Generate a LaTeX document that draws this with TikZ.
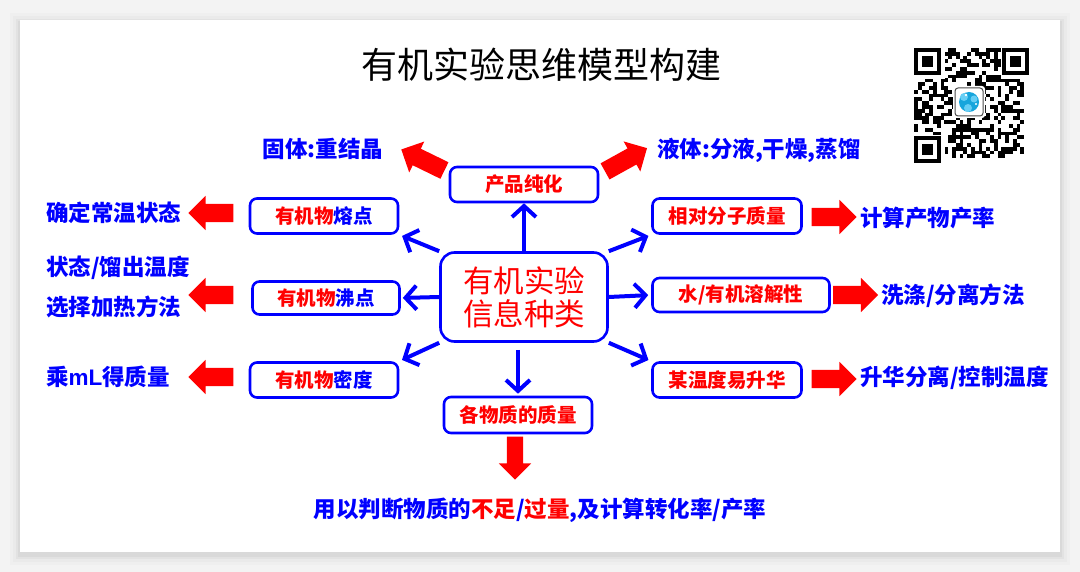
\documentclass[tikz,border=0pt]{standalone}
\usepackage{fontspec}
\setmainfont{Noto Sans CJK SC}
\newfontfamily\latinsans{Liberation Sans}
\usetikzlibrary{shapes.arrows,arrows.meta}
\definecolor{pagebg}{RGB}{243,243,243}
\newcommand{\boxfont}{\fontsize{19.5}{22}\selectfont\bfseries}
\newcommand{\notefont}{\fontsize{22.5}{26}\selectfont\bfseries}

\tikzset{
  infobox/.style={draw=blue, line width=2.6pt, rounded corners=7pt, minimum width=148pt,
    minimum height=35pt, inner sep=0pt, text=red, font=\boxfont},
  hubbox/.style={draw=blue, line width=2.6pt, rounded corners=14pt, minimum width=167pt,
    minimum height=89pt, inner sep=0pt, text=red, align=center,
    font=\fontsize{30.5}{33}\selectfont},
  note/.style={text=blue, inner sep=0pt, font=\notefont},
  fatarrow/.style={single arrow, fill=red, draw=none, minimum height=45pt,
    inner sep=9pt, single arrow head extend=8pt},
  link/.style={draw=blue, line width=4pt, -{Straight Barb[length=11pt,width=24pt]}}
}

\begin{document}
\begin{tikzpicture}[x=1pt,y=-1pt]
	\useasboundingbox (0,0) rectangle (1080,572);
	\fill[pagebg] (0,0) rectangle (1080,572);
	\foreach \d/\o in {10/0.015,7/0.02,4/0.03,2/0.04}
	  \fill[black,opacity=\o] (20-\d,20-\d+3) rectangle (1060+\d,552+\d+3);
	\fill[white] (20,20) rectangle (1060,552);

	% title
	\node (title) at (541,65) {\fontsize{36}{40}\selectfont 有机实验思维模型构建};

	% qr code
	\pgfmathsetseed{731}
	\foreach \i in {0,...,28}{
	  \foreach \j in {0,...,28}{
	    \pgfmathrandominteger{\bit}{0}{1}
	    \ifnum\bit=1 \fill[black] ({914+\i*3.8},{48+\j*3.8}) rectangle +(3.8,3.8); \fi
	  }
	}
	\foreach \cx/\cy in {914/48, 1002.4/48, 914/136.4}{
	  \fill[white] (\cx-1,\cy-1) rectangle +(32,32);
	  \fill[black] (\cx,\cy) rectangle +(26.6,26.6);
	  \fill[white] (\cx+3.8,\cy+3.8) rectangle +(19,19);
	  \fill[black] (\cx+7.6,\cy+7.6) rectangle +(11.4,11.4);
	}
	\fill[white, rounded corners=3pt] (953,86) rectangle (985,118);
	\draw[black!70, line width=1pt, rounded corners=3pt] (955,88) rectangle (983,116);
	\fill[cyan!80!teal] (969,102) circle (10);
	\fill[cyan!60] (964,97) circle (4) (974,99) circle (3.5) (968,108) circle (4);
	\fill[white] (966,95) circle (1.3) (976,104) circle (1.2);

	% centre
	\node[hubbox] (hub) at (524,297) {有机实验\\信息种类};

	% boxes
	\node[infobox] (purify) at (524,184.5) {产品纯化};
	\node[infobox] (melt) at (324,216) {有机物\textcolor{blue}{熔点}};
	\node[infobox, minimum width=147pt, minimum height=33pt] (boil) at (326,298) {有机物\textcolor{blue}{沸点}};
	\node[infobox] (density) at (324,380) {有机物\textcolor{blue}{密度}};
	\node[infobox, minimum height=36pt] (masses) at (518,415) {各物质的质量};
	\node[infobox, minimum width=149pt] (molar) at (727,216) {相对分子质量};
	\node[infobox, minimum width=177pt, minimum height=34pt] (solub) at (741,295) {水/有机溶解性};
	\node[infobox, minimum width=149pt] (sublime) at (727,380) {某温度易升华};

	% blue links
	\draw[link] (hub.north) -- (purify.south);
	\draw[link, shorten >=3pt] (hub.north west) -- (melt.south east);
	\draw[link, shorten >=2pt] (hub.west) -- (boil.east);
	\draw[link, shorten >=3pt] (hub.south west) -- (density.north east);
	\draw[link, shorten <=7pt, shorten >=2pt] (masses.north |- hub.south) -- (masses.north);
	\draw[link, shorten >=3pt] (hub.north east) -- (molar.south west);
	\draw[link, shorten >=3pt] (hub.east) -- (solub.west);
	\draw[link, shorten >=3pt] (hub.south east) -- (sublime.north west);

	% red arrows
	\node[fatarrow, rotate=154, minimum height=48pt] (to-solid) at (427,162) {};
	\node[fatarrow, rotate=29, minimum height=48pt] (to-liquid) at (622,162) {};
	\node[fatarrow, rotate=180] (to-state) at (215.5,213) {};
	\node[fatarrow, rotate=180] (to-heat) at (215.5,295) {};
	\node[fatarrow, rotate=180] (to-volume) at (215.5,377) {};
	\node[fatarrow] (to-yield) at (829.5,217) {};
	\node[fatarrow] (to-wash) at (851,295) {};
	\node[fatarrow] (to-sublim) at (829.5,379) {};
	\node[fatarrow, rotate=-90, minimum height=43pt, inner sep=8pt] (to-use) at (515,454) {};

	% notes
	\node[note] (solid) at (323,149) {固体:重结晶};
	\node[note, anchor=west] (liquid) at (657,150) {液体:分液,干燥,蒸馏};
	\node[note, anchor=west] (state) at (46,213) {确定常温状态};
	\node[note, anchor=west] (distill) at (46,268) {状态/馏出温度};
	\node[note, anchor=west] (heat) at (46,307) {选择加热方法};
	\node[note, anchor=west] (volume) at (46,377) {乘{\latinsans mL}得质量};
	\node[note, anchor=west] (yield) at (860,218) {计算产物产率};
	\node[note, anchor=west] (wash) at (881,296) {洗涤/分离方法};
	\node[note, anchor=west] (sublim) at (860,378) {升华分离/控制温度};
	\node[note] (use) at (540,510) {用以判断物质的\textcolor{red}{不足}/\textcolor{red}{过量},及计算转化率/产率};
\end{tikzpicture}
\end{document}
